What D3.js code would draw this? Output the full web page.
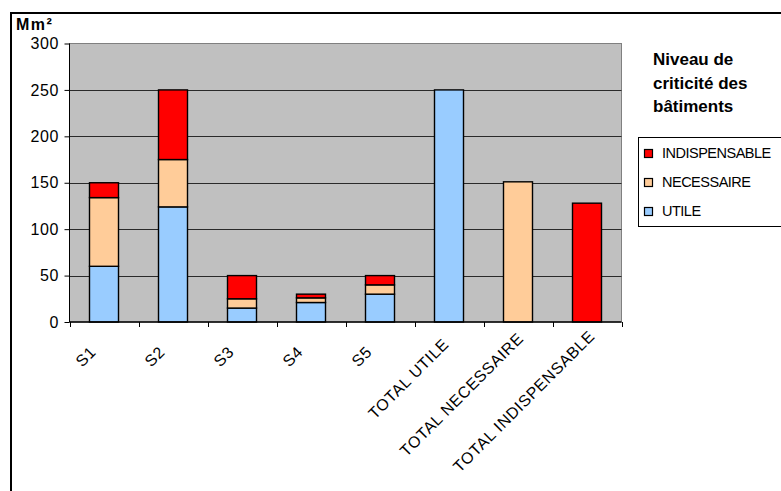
<!DOCTYPE html>
<html>
<head>
<meta charset="utf-8">
<script src="https://cdn.jsdelivr.net/npm/d3@7"></script>
<style>
  html, body { margin: 0; padding: 0; background: #fff; }
  svg { display: block; font-family: Arial, "Liberation Sans", sans-serif; }
</style>
</head>
<body>
<svg id="chart" width="781" height="491"></svg>
<script>
const categories = ["S1", "S2", "S3", "S4", "S5", "TOTAL UTILE", "TOTAL NECESSAIRE", "TOTAL INDISPENSABLE"];
const utile =         [60, 124, 15, 21, 30, 250,   0,   0];
const necessaire =    [74,  51, 10,  5, 10,   0, 151,   0];
const indispensable = [16,  75, 25,  4, 10,   0,   0, 128];
const seriesNames = ["UTILE", "NECESSAIRE", "INDISPENSABLE"];
const seriesColors = ["#99CCFF", "#FFCC99", "#FF0000"];
const yTicks = [0, 50, 100, 150, 200, 250, 300];
const yUnit = "Mm²";
const legendTitle = ["Niveau de", "criticité des", "bâtiments"];

const svg = d3.select("#chart");
const plot = { left: 69.5, right: 621.5, top: 43.5, bottom: 322 };
const axisFont = 16, axisSpacing = 0.6;

const x = d3.scaleBand().domain(categories).range([plot.left, plot.right]).paddingInner(0.58).paddingOuter(0.29);
const y = d3.scaleLinear().domain([0, 300]).range([plot.bottom, plot.top]);

// outer frame (cut off at right and bottom)
svg.append("path")
  .attr("d", `M11,500 L11,13 L790,13`)
  .attr("fill", "none").attr("stroke", "#000").attr("stroke-width", 2);

// plot background
svg.append("rect")
  .attr("x", plot.left).attr("y", plot.top)
  .attr("width", plot.right - plot.left).attr("height", plot.bottom - plot.top)
  .attr("fill", "#C0C0C0").attr("stroke", "#808080").attr("stroke-width", 1);

// gridlines
svg.append("g").selectAll("line").data(yTicks.filter(d => d > 0 && d < 300)).join("line")
  .attr("x1", plot.left).attr("x2", plot.right)
  .attr("y1", d => Math.round(y(d)) + 0.5).attr("y2", d => Math.round(y(d)) + 0.5)
  .attr("stroke", "#2a2a2a").attr("stroke-width", 1);

// stacked bars
const table = categories.map((c, i) => ({ cat: c, UTILE: utile[i], NECESSAIRE: necessaire[i], INDISPENSABLE: indispensable[i] }));
const stacked = d3.stack().keys(seriesNames)(table);
const barW = 29;
stacked.forEach((layer, si) => {
  svg.append("g").selectAll("rect").data(layer.filter(d => d[1] - d[0] > 0)).join("rect")
    .attr("x", d => x(d.data.cat) + x.bandwidth() / 2 - barW / 2)
    .attr("y", d => y(d[1]))
    .attr("width", barW)
    .attr("height", d => y(d[0]) - y(d[1]))
    .attr("fill", seriesColors[si])
    .attr("stroke", "#000").attr("stroke-width", 1.4);
});

// y axis
const yAxis = d3.axisLeft(y).tickValues(yTicks).tickSize(5).tickPadding(6);
const gy = svg.append("g").attr("transform", `translate(${plot.left},0)`).call(yAxis);
gy.select(".domain").attr("stroke", "#000").attr("d", `M0,${plot.top}V${plot.bottom}`);
gy.selectAll(".tick line").attr("stroke", "#000");
gy.selectAll(".tick text").attr("font-size", axisFont).attr("fill", "#000")
  .attr("letter-spacing", axisSpacing).attr("dx", axisSpacing)
  .attr("font-family", "Arial, 'Liberation Sans', sans-serif");

// x axis: line + ticks at band boundaries
const bounds = categories.map(c => x(c) - x.step() * x.paddingInner() / 2);
bounds.push(plot.right);
const gx = svg.append("g");
gx.append("line").attr("x1", plot.left).attr("x2", plot.right)
  .attr("y1", plot.bottom).attr("y2", plot.bottom).attr("stroke", "#000").attr("stroke-width", 1.5);
gx.selectAll("line.t").data(bounds).join("line").attr("class", "t")
  .attr("x1", d => Math.round(d) + 0.5).attr("x2", d => Math.round(d) + 0.5)
  .attr("y1", plot.bottom).attr("y2", plot.bottom + 5).attr("stroke", "#000");

// rotated category labels
const lbl = gx.selectAll("text").data(categories).join("text")
  .attr("font-size", axisFont).attr("letter-spacing", axisSpacing)
  .attr("fill", "#000").attr("text-anchor", "end")
  .text(d => d);
let w0 = null;
lbl.each(function (d, i) {
  const w = this.getComputedTextLength();
  if (w0 === null) w0 = w;
  const shift = (w - w0) * 0.13;
  const cx = x(d) + x.bandwidth() / 2;
  const px = cx - 7 + shift * 0.707;
  const py = plot.bottom + 31 - shift * 0.707;
  d3.select(this).attr("transform", `translate(${px},${py}) rotate(-45)`);
});

// unit label
svg.append("text").attr("x", 16).attr("y", 30)
  .attr("font-size", 16).attr("font-weight", "bold").attr("letter-spacing", 1.5).text(yUnit);

// legend title
svg.append("text").attr("x", 653).attr("y", 65)
  .attr("font-size", 17).attr("font-weight", "bold")
  .selectAll("tspan").data(legendTitle).join("tspan")
  .attr("x", 653).attr("dy", (d, i) => i === 0 ? 0 : 23.5).text(d => d);

// legend box
svg.append("rect").attr("x", 638.5).attr("y", 137.5).attr("width", 160).attr("height", 89)
  .attr("fill", "#fff").attr("stroke", "#000").attr("stroke-width", 1);
const legendOrder = [2, 1, 0];
const lg = svg.append("g").selectAll("g").data(legendOrder).join("g")
  .attr("transform", (d, i) => `translate(644,${158 + i * 29})`);
lg.append("rect").attr("x", 0.5).attr("y", -8.5).attr("width", 8).attr("height", 8)
  .attr("fill", d => seriesColors[d]).attr("stroke", "#000").attr("stroke-width", 1.2);
lg.append("text").attr("x", 18).attr("y", 0).attr("font-size", 14.5).attr("letter-spacing", -0.5)
  .text(d => seriesNames[d]);
</script>
</body>
</html>
